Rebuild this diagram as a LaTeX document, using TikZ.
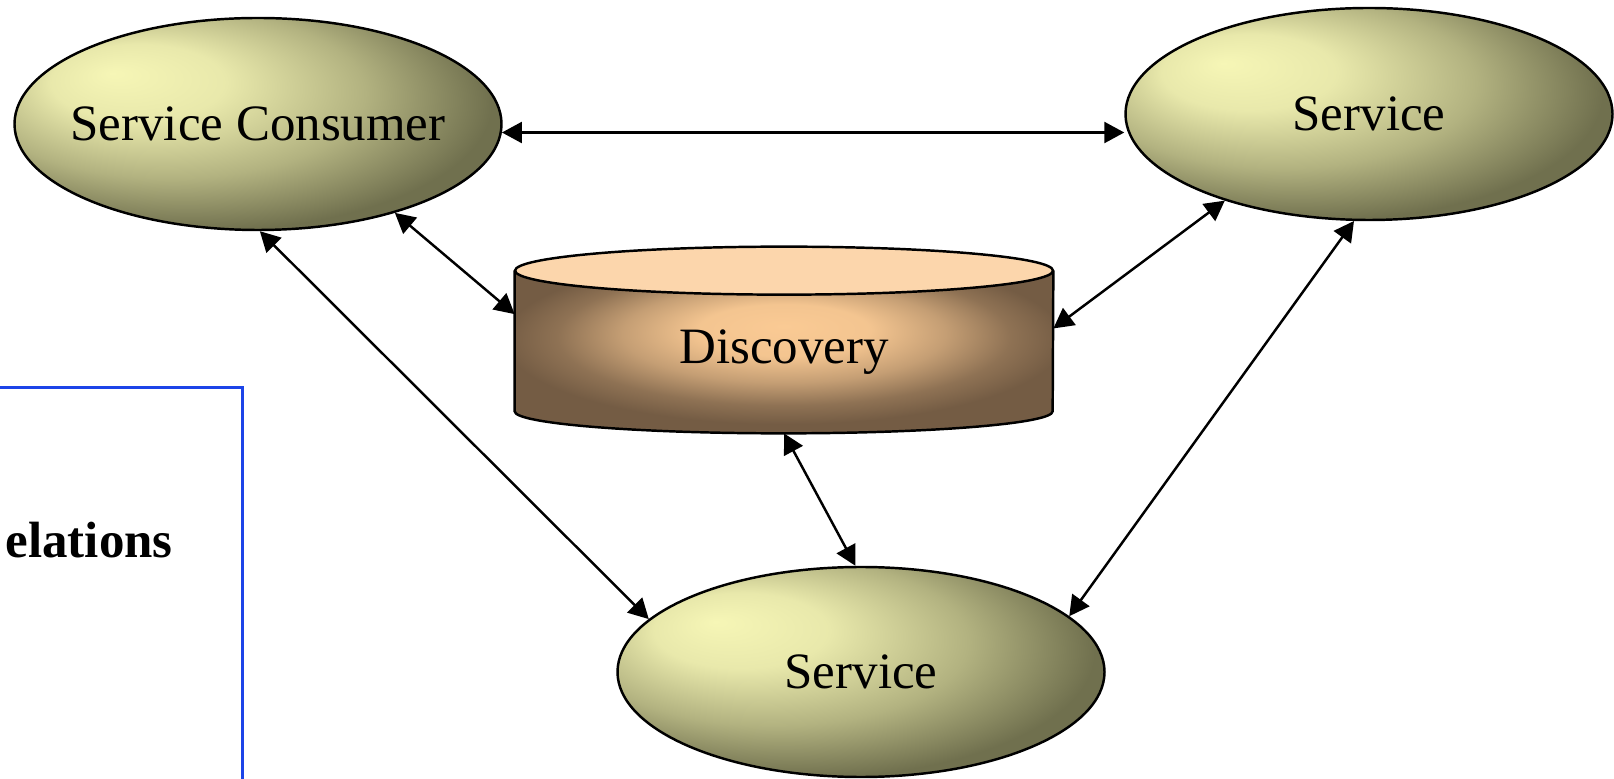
\documentclass[tikz,border=0pt]{standalone}
\usepackage{fontspec}
\setmainfont{Liberation Serif}
\usetikzlibrary{arrows.meta,shapes.geometric,backgrounds}

% colours of the shapes
\definecolor{oliveLite}{RGB}{246,246,182}
\definecolor{oliveMid}{RGB}{178,178,128}
\definecolor{oliveDark}{RGB}{112,112,78}
\definecolor{peachTop}{RGB}{252,214,172}
\definecolor{peachLite}{RGB}{250,202,148}
\definecolor{brownDark}{RGB}{116,92,68}
\definecolor{frameBlue}{RGB}{28,68,232}

% light spot up left, dark to the right and bottom
\pgfdeclareradialshading{olivebulb}{\pgfpoint{-15bp}{12bp}}{color(0bp)=(oliveLite); color(9bp)=(oliveLite!80!oliveMid); color(20bp)=(oliveMid); color(30bp)=(oliveDark); color(50bp)=(oliveDark)}
% light in the middle of the drum, brown to the sides
\pgfdeclareradialshading{discbody}{\pgfpoint{0bp}{8bp}}{color(0bp)=(peachLite); color(8bp)=(peachLite!95!brownDark); color(15bp)=(peachLite!60!brownDark); color(21bp)=(peachLite!20!brownDark); color(26bp)=(brownDark); color(50bp)=(brownDark)}

\begin{document}
\begin{tikzpicture}[font=\fontsize{29}{34}\selectfont,
    svc/.style={ellipse, draw, line width=1.4pt, shading=olivebulb, minimum width=9.74cm, minimum height=4.24cm, inner sep=0pt},
    link/.style={{Triangle[length=0.40cm,width=0.42cm]}-{Triangle[length=0.40cm,width=0.42cm]}, line width=1.4pt}]

    % Page size
    \useasboundingbox (0,0) rectangle (32.28,15.56);
    \clip (0,0) rectangle (32.28,15.56);

    % Frame on the left with its title
    \draw[frameBlue, line width=1.4pt] (-0.5,-0.5) rectangle (4.85,7.81);
    \node[anchor=base east, inner sep=0pt, font=\fontsize{29}{34}\selectfont\bfseries] (rel) at (3.46,4.40) {elations};

    % The three services
    \node[svc, label=center:Service Consumer] (cons) at (5.16,13.08) {};
    \node[svc, label=center:Service] (srv1) at (27.38,13.28) {};
    \node[svc, label=center:Service, minimum height=4.20cm] (srv0) at (17.22,2.12) {};

    % Discovery drum
    \def\rx{5.38}
    \node[minimum width=10.76cm, minimum height=3.24cm, inner sep=0pt] (disc) at (15.68,8.52) {Discovery};
    \begin{scope}[on background layer]
    \shade[shading=discbody] (disc.north west) -- ([yshift=0.44cm]disc.south west)
      arc[start angle=180, end angle=360, x radius=\rx cm, y radius=0.44cm] -- (disc.north east) -- cycle;
    \draw[line width=1.4pt] (disc.north west) -- ([yshift=0.44cm]disc.south west)
      arc[start angle=180, end angle=360, x radius=\rx cm, y radius=0.44cm] -- (disc.north east);
    \filldraw[fill=peachTop, line width=1.4pt] (disc.north) ellipse [x radius=\rx cm, y radius=0.48cm];
    \end{scope}

    % Links
    \draw[link] (cons.-2) -- (srv1.west |- cons.-2);
    \draw[link] (cons.-33) -- (disc.172);
    \draw[link] (cons.-89) -- (srv0.166);
    \draw[link] (disc.5) -- (srv1.-149);
    \draw[link] (srv1.-98) -- (srv0.15);
    \draw[link] (disc.south) -- (srv0.93);
\end{tikzpicture}
\end{document}
